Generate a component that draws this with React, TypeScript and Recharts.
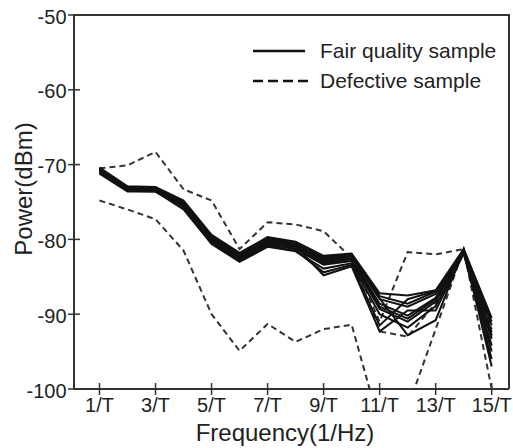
import { Legend, Line, LineChart, XAxis, YAxis } from "recharts";

const frequencies = [1, 2, 3, 4, 5, 6, 7, 8, 9, 10, 11, 12, 13, 14, 15];
const freqTicks = [1, 3, 5, 7, 9, 11, 13, 15];
const freqTickLabels = ["1/T", "3/T", "5/T", "7/T", "9/T", "11/T", "13/T", "15/T"];
const powerTicks = [-100, -90, -80, -70, -60, -50];

// fair quality samples (the dense black bundle)
const fairA = [-70.4, -72.9, -73.0, -74.8, -79.4, -81.8, -79.7, -80.3, -82.2, -81.9, -87.2, -87.5, -86.8, -81.3, -90.5];
const fairB = [-70.6, -73.1, -73.2, -75.1, -79.7, -82.1, -80.0, -80.7, -82.6, -82.2, -88.0, -89.0, -87.3, -81.4, -91.5];
const fairC = [-70.8, -73.3, -73.3, -75.4, -80.0, -82.4, -80.4, -81.0, -83.0, -82.5, -88.6, -90.2, -87.8, -81.5, -92.4];
const fairD = [-71.0, -73.4, -73.5, -75.7, -80.3, -82.7, -80.7, -81.3, -83.4, -82.9, -89.3, -91.0, -88.3, -81.6, -93.3];
const fairE = [-71.2, -73.6, -73.6, -76.0, -80.6, -83.0, -81.0, -81.6, -83.9, -83.2, -90.0, -91.8, -88.9, -81.8, -94.2];
const fairF = [-70.5, -73.0, -73.1, -75.0, -79.6, -82.0, -79.9, -80.5, -82.4, -82.0, -87.6, -88.6, -87.0, -81.3, -91.0];
const fairG = [-70.9, -73.3, -73.4, -75.5, -80.1, -82.5, -80.6, -81.2, -83.2, -82.7, -89.0, -90.6, -88.0, -81.5, -92.8];
const fairH = [-71.1, -73.5, -73.6, -75.8, -80.4, -82.9, -80.9, -81.5, -84.4, -83.4, -91.5, -88.0, -86.9, -81.7, -95.0];
const fairI = [-70.7, -73.2, -73.3, -75.3, -79.9, -82.3, -80.3, -80.9, -84.8, -83.6, -92.3, -89.5, -89.5, -81.9, -96.0];
const fairJ = [-70.6, -73.2, -73.3, -75.2, -79.8, -82.2, -80.2, -80.8, -82.8, -82.3, -87.9, -92.8, -90.8, -81.4, -97.0];

// defective samples (dashed)
const defectUpper = [-70.5, -70.1, -68.3, -73.3, -74.8, -81.3, -77.7, -78.0, -78.9, -82.5, -91.0, -81.7, -82.0, -81.3, -92.0];
const defectMid = [-70.8, -73.3, -73.3, -75.5, -80.0, -82.5, -80.5, -81.0, -83.0, -82.6, -92.3, -93.0, -88.5, -81.5, -93.0];
const defectLower = [-74.8, -76.0, -77.3, -81.5, -90.0, -94.9, -91.3, -93.7, -92.0, -91.4, -104.8, -102.5, -92.0, -81.3, -100.0];

const legendLabels = ["Fair quality sample", "Defective sample"];

const fairSeries = [fairA, fairB, fairC, fairD, fairE, fairF, fairG, fairH, fairI, fairJ];
const defectSeries = [defectUpper, defectMid, defectLower];

const data = frequencies.map((f, i) => {
  const row: Record<string, number> = { f };
  fairSeries.forEach((s, k) => (row[`fair${k}`] = s[i]));
  defectSeries.forEach((s, k) => (row[`defect${k}`] = s[i]));
  return row;
});

const FONT = "'Liberation Sans', Arial, sans-serif";
const AXIS = "#333";
const TEXT = "#222";

const CHART_W = 513;
const CHART_H = 448;
const MARGIN = { top: 15, right: 4, left: 0, bottom: 0 };
const Y_AXIS_W = 74;
const X_AXIS_H = 59;
const PAD = { left: 25.5, right: 17.3 };
const PLOT_W = CHART_W - MARGIN.left - MARGIN.right - Y_AXIS_W;
const PLOT_H = CHART_H - MARGIN.top - MARGIN.bottom - X_AXIS_H;

function FreqTick(props: any) {
  const { x, y, payload } = props;
  const axisY = y - 8;
  const label = freqTickLabels[freqTicks.indexOf(payload.value)];
  return (
    <g>
      <line x1={x} x2={x} y1={axisY - 6} y2={axisY + 6} stroke={AXIS} strokeWidth={1.5} />
      <text x={x} y={axisY + 22.5} textAnchor="middle" fontSize={20} fontFamily={FONT} fill={TEXT}>
        {label}
      </text>
    </g>
  );
}

function PowerTick(props: any) {
  const { x, y, payload } = props;
  const axisX = x + 8;
  return (
    <g>
      <line x1={axisX - 6} x2={axisX + 6} y1={y} y2={y} stroke={AXIS} strokeWidth={1.5} />
      <text x={x + 0.5} y={y + 8.5} textAnchor="end" fontSize={20} fontFamily={FONT} fill={TEXT}>
        {payload.value}
      </text>
    </g>
  );
}

function LegendBox() {
  return (
    <div style={{ fontFamily: FONT, fontSize: 21, color: TEXT }}>
      {legendLabels.map((label, i) => (
        <div key={label} style={{ display: "flex", alignItems: "center", height: 30 }}>
          <svg width={56} height={30} style={{ display: "block" }}>
            <line
              x1={0}
              x2={i === 0 ? 52 : 56}
              y1={15}
              y2={15}
              stroke="#111"
              strokeWidth={2.5}
              strokeDasharray={i === 0 ? undefined : "10 5"}
            />
          </svg>
          <span style={{ marginLeft: 11, lineHeight: "30px", whiteSpace: "nowrap" }}>{label}</span>
        </div>
      ))}
    </div>
  );
}

export default function App() {
  return (
    <div style={{ position: "absolute", left: 0, top: 0, width: CHART_W, height: CHART_H, background: "#fff" }}>
      <LineChart width={CHART_W} height={CHART_H} data={data} margin={MARGIN}>
        <XAxis
          dataKey="f"
          type="number"
          domain={[1, 15]}
          ticks={freqTicks}
          padding={PAD}
          height={X_AXIS_H}
          tickSize={6}
          tickMargin={2}
          tickLine={false}
          axisLine={{ stroke: AXIS, strokeWidth: 2 }}
          tick={<FreqTick />}
          interval={0}
          label={{
            content: ({ viewBox }: any) => (
              <text
                x={viewBox.x + viewBox.width / 2 - 6.5}
                y={viewBox.y + 52}
                textAnchor="middle"
                fontSize={24}
                fontFamily={FONT}
                fill={TEXT}
              >
                Frequency(1/Hz)
              </text>
            ),
          }}
        />
        <YAxis
          type="number"
          domain={[-100, -50]}
          ticks={powerTicks}
          allowDataOverflow
          width={Y_AXIS_W}
          tickSize={6}
          tickMargin={2}
          tickLine={false}
          axisLine={{ stroke: AXIS, strokeWidth: 2 }}
          tick={<PowerTick />}
          interval={0}
          label={{
            content: ({ viewBox }: any) => {
              const cx = viewBox.x + 23;
              const cy = viewBox.y + viewBox.height / 2 - 13;
              return (
                <text
                  x={cx}
                  y={cy}
                  transform={`rotate(-90, ${cx}, ${cy})`}
                  textAnchor="middle"
                  dominantBaseline="central"
                  fontSize={24}
                  fontFamily={FONT}
                  fill={TEXT}
                >
                  Power(dBm)
                </text>
              );
            },
          }}
        />
        {defectSeries.map((_, k) => (
          <Line
            key={`d${k}`}
            type="linear"
            dataKey={`defect${k}`}
            stroke="#333"
            strokeWidth={2}
            strokeDasharray="6 4"
            dot={false}
            activeDot={false}
            isAnimationActive={false}
          />
        ))}
        {fairSeries.map((_, k) => (
          <Line
            key={`f${k}`}
            type="linear"
            dataKey={`fair${k}`}
            stroke="#111"
            strokeWidth={2}
            dot={false}
            activeDot={false}
            isAnimationActive={false}
          />
        ))}
        <Legend
          layout="vertical"
          align="center"
          verticalAlign="middle"
          content={<LegendBox />}
          wrapperStyle={{ left: 253, top: 35.5, width: "auto", height: "auto" }}
        />
      </LineChart>
      {/* top and right edges of the plot box */}
      <div
        style={{
          position: "absolute",
          left: MARGIN.left + Y_AXIS_W - 1,
          top: MARGIN.top - 1,
          width: PLOT_W + 2,
          height: PLOT_H + 1,
          boxSizing: "border-box",
          borderTop: `2px solid ${AXIS}`,
          borderRight: `2px solid ${AXIS}`,
          pointerEvents: "none",
        }}
      />
    </div>
  );
}
